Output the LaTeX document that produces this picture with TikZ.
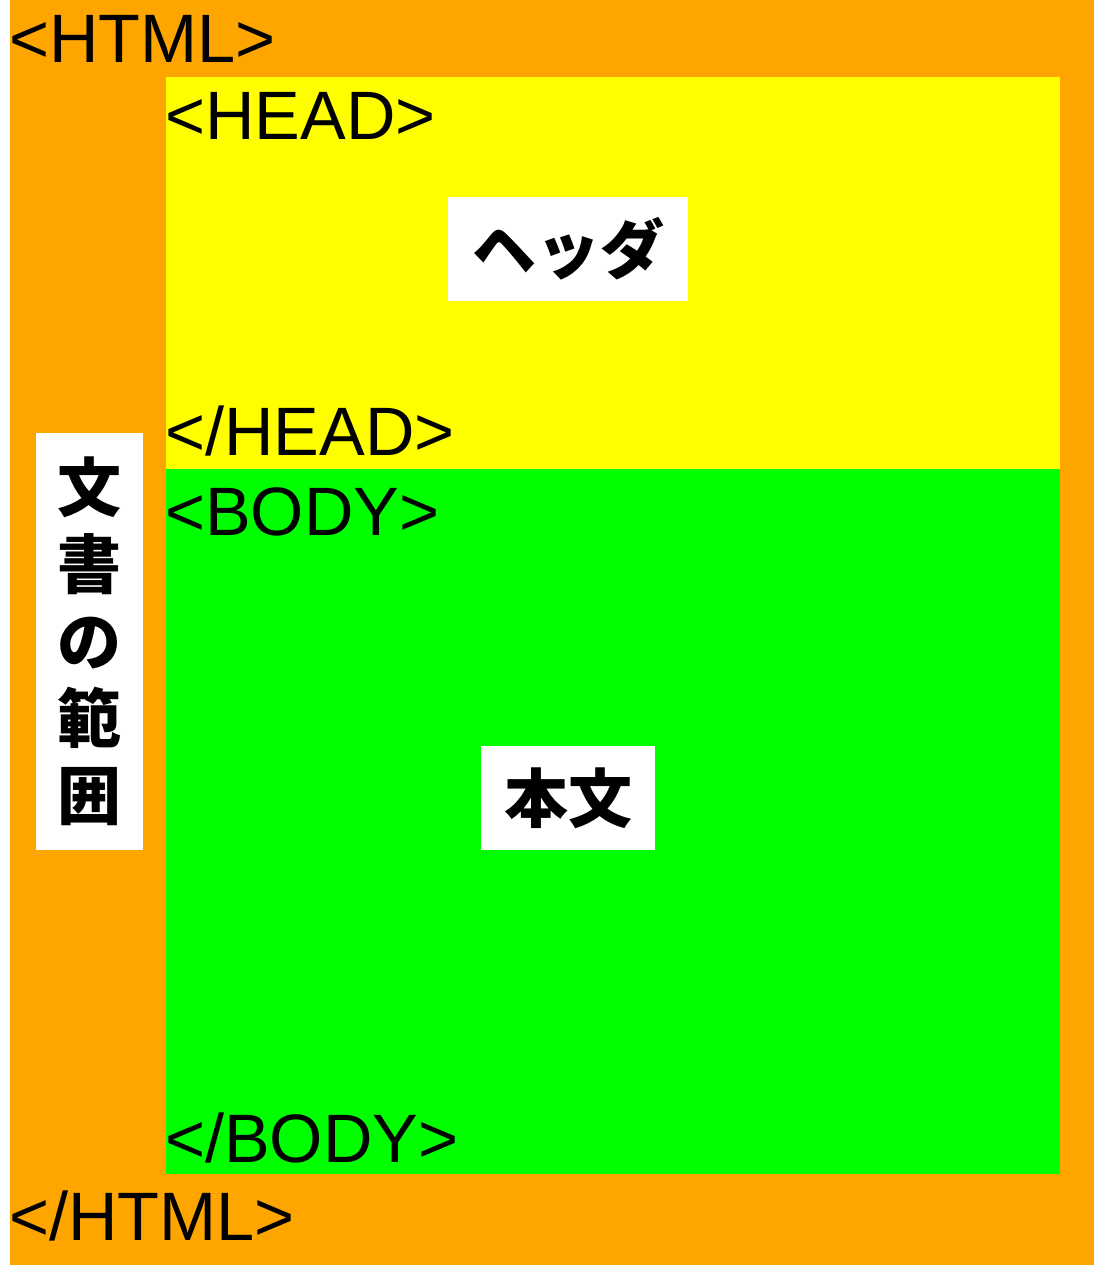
\documentclass[tikz,border=0pt]{standalone}
\usepackage{fontspec}
\setmainfont{Liberation Sans}
\newfontfamily\cjk{Noto Sans CJK JP}
\usepackage{xcolor}
\usepackage{tikz}
\definecolor{HtmlArea}{HTML}{FFA500}
\definecolor{HeadArea}{HTML}{FFFF00}
\definecolor{BodyArea}{HTML}{00FF00}
\tikzset{
  tag/.style={anchor=base west, inner sep=0pt, font=\fontsize{68.5}{82}\selectfont},
  labelbox/.style={fill=white, inner sep=0pt, align=center,
    font=\cjk\bfseries\fontsize{64}{77}\selectfont},
}

\begin{document}
\begin{tikzpicture}[x={(1pt,0)}, y={(0,-1pt)}]
  \useasboundingbox (0,0) rectangle (1094,1265);
  \fill[HtmlArea] (10,0) rectangle (1094,1265);
  \fill[HeadArea] (166,77) rectangle (1060,469);
  \fill[BodyArea] (166,469) rectangle (1060,1174);
  \foreach \l/\x/\y/\n in {<HTML>/9/63/HtmlOpen,
  {</HTML>}/9/1240/HtmlClose,
  <HEAD>/165/140/HeadOpen,
  {</HEAD>}/165/455/HeadClose,
  <BODY>/165/535/BodyOpen,
  {</BODY>}/165/1162/BodyClose}
  {\node[tag] (\n) at (\x,\y) {\l};}
  \node[labelbox, minimum width=240, minimum height=104] (Header) at (568,249) {ヘッダ};
  \node[labelbox, minimum width=174, minimum height=104] (Honbun) at (568,798) {本文};
  \node[labelbox, minimum width=107, minimum height=417] (Range) at (89.5,641.5) {文\\書\\の\\範\\囲};
\end{tikzpicture}
\end{document}
